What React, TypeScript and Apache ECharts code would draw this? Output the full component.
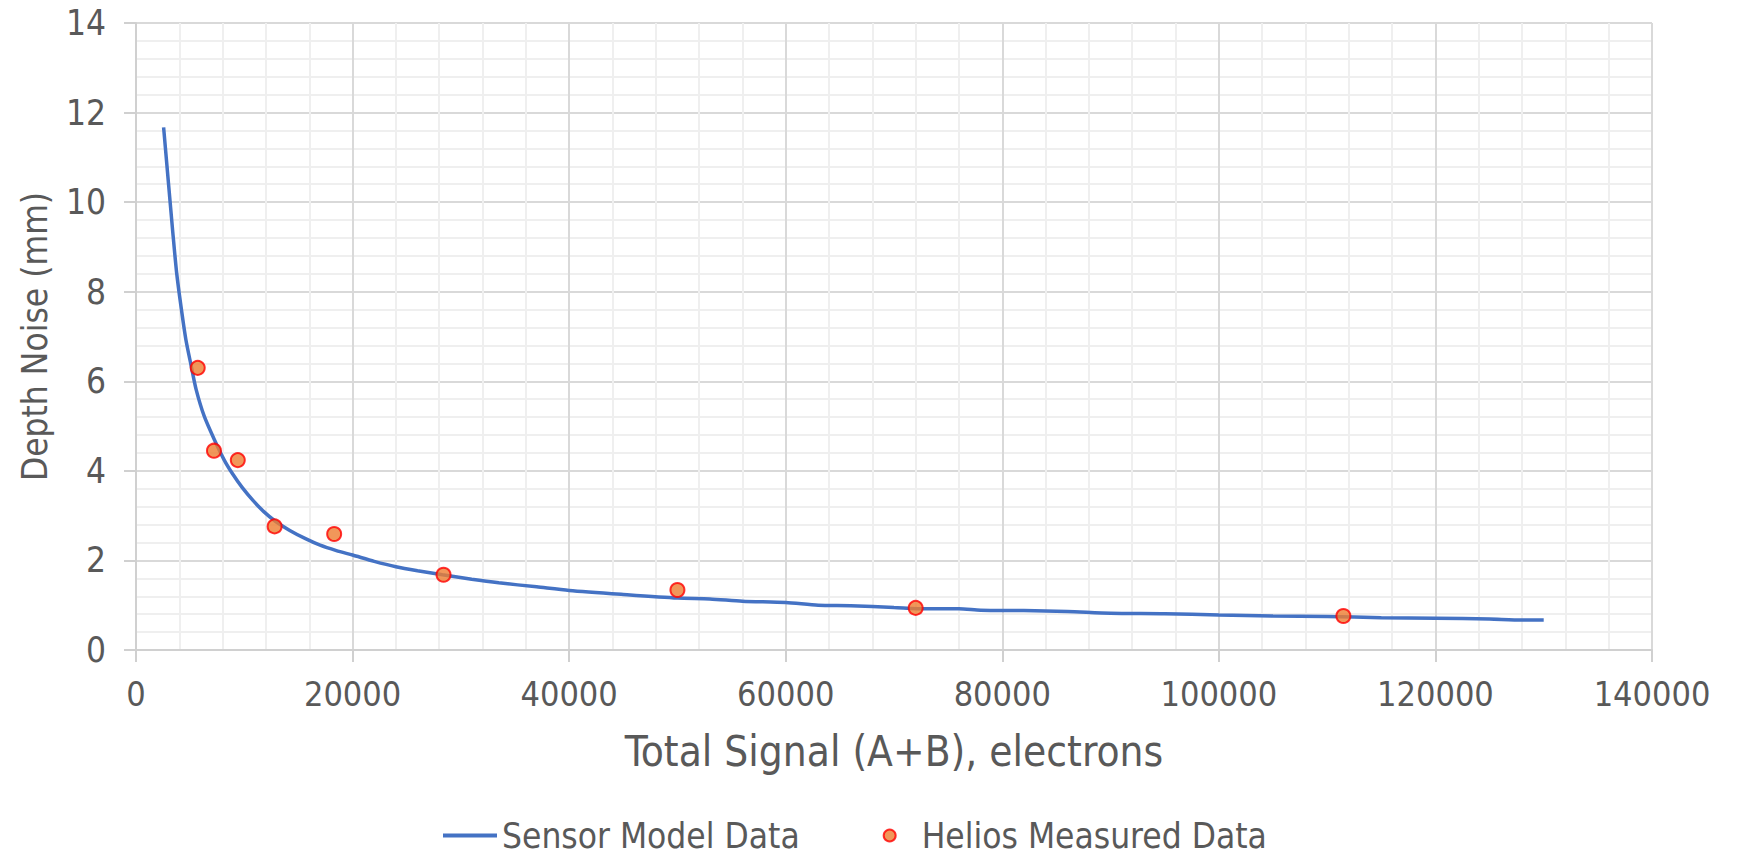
import React, { useEffect, useRef } from "react";
import * as echarts from "echarts";

const modelSignal = [2550, 3000, 3400, 3750, 4150, 4600, 5100, 5550, 6300, 7230, 8150, 8900, 9800, 10800, 11800, 12900, 14200, 15700, 17000, 18500, 20000, 22000, 24000, 26000, 28300, 31000, 33500, 37000, 40000, 45000, 50000, 53000, 56000, 60000, 63000, 66000, 70000, 73000, 76000, 78000, 82000, 86000, 90000, 95000, 100000, 105000, 110000, 115000, 120000, 125000, 128000, 130000];
const modelNoise = [11.67, 10.42, 9.32, 8.43, 7.68, 6.94, 6.34, 5.82, 5.22, 4.7, 4.24, 3.94, 3.63, 3.34, 3.09, 2.87, 2.67, 2.48, 2.34, 2.22, 2.12, 1.98, 1.86, 1.77, 1.68, 1.58, 1.5, 1.41, 1.33, 1.24, 1.16, 1.14, 1.09, 1.06, 1.0, 0.99, 0.95, 0.92, 0.92, 0.89, 0.88, 0.86, 0.82, 0.81, 0.78, 0.76, 0.75, 0.72, 0.71, 0.69, 0.67, 0.67];

const measuredSignal = [5700, 7200, 9400, 12800, 18300, 28400, 50000, 72000, 111500];
const measuredNoise = [6.3, 4.45, 4.24, 2.76, 2.59, 1.68, 1.34, 0.94, 0.76];

const xTitle = "Total Signal (A+B), electrons";
const yTitle = "Depth Noise (mm)";
const seriesNames = ["Sensor Model Data", "Helios Measured Data"];

const FONT = "'DejaVu Sans Condensed', 'Liberation Sans Narrow', 'Open Sans', sans-serif";
const TEXT = "#595959";

export default function App() {
  const ref = useRef<HTMLDivElement>(null);
  useEffect(() => {
    if (!ref.current) return;
    const chart = echarts.init(ref.current, undefined, { renderer: "svg" });
    const axisCommon = {
      axisLine: { show: true, lineStyle: { color: "#d0d0d0", width: 2 } },
      axisTick: { show: true, length: 12, lineStyle: { color: "#d0d0d0", width: 2 } },
      splitLine: { show: true, lineStyle: { color: "#d9d9d9", width: 2 } },
      minorTick: { show: false, splitNumber: 5 },
      minorSplitLine: { show: true, lineStyle: { color: "#efefef", width: 2 } },
    };
    chart.setOption({
      animation: false,
      textStyle: { fontFamily: FONT },
      grid: { left: 136, right: 94, top: 23, bottom: 204, containLabel: false },
      xAxis: {
        type: "value",
        min: 0,
        max: 140000,
        interval: 20000,
        ...axisCommon,
        axisLabel: {
          color: TEXT,
          fontSize: 34,
          margin: 27,
          fontFamily: FONT,
          formatter: (v: number) => String(v),
        },
        name: xTitle,
        nameLocation: "middle",
        nameGap: 80,
        nameTextStyle: { color: TEXT, fontSize: 42, fontFamily: FONT },
      },
      yAxis: {
        type: "value",
        min: 0,
        max: 14,
        interval: 2,
        ...axisCommon,
        axisLabel: { color: TEXT, fontSize: 35, margin: 30, fontFamily: FONT },
        name: yTitle,
        nameLocation: "middle",
        nameGap: 84,
        nameTextStyle: { color: TEXT, fontSize: 35, fontFamily: FONT },
      },
      legend: {
        top: 813,
        left: 438,
        itemWidth: 54,
        itemHeight: 12,
        itemGap: 83,
        textStyle: { color: TEXT, fontSize: 35, fontFamily: FONT },
        data: [
          { name: seriesNames[0], icon: "path://M0,0 L54,0 L54,4 L0,4 Z" },
          { name: seriesNames[1], icon: "circle" },
        ],
      },
      series: [
        {
          name: seriesNames[0],
          type: "line",
          data: modelSignal.map((x, i) => [x, modelNoise[i]]),
          showSymbol: false,
          symbol: "none",
          smooth: 0.25,
          lineStyle: { color: "#4472C4", width: 3.5 },
          itemStyle: { color: "#4472C4" },
          z: 2,
        },
        {
          name: seriesNames[1],
          type: "scatter",
          data: measuredSignal.map((x, i) => [x, measuredNoise[i]]),
          symbol: "circle",
          symbolSize: 14,
          itemStyle: { color: "#ED7D31", borderColor: "#FF0000", borderWidth: 2 },
          z: 3,
        },
      ],
    });
    return () => chart.dispose();
  }, []);
  return (
    <div
      ref={ref}
      style={{ position: "fixed", left: 0, top: 0, width: 1746, height: 854, background: "#fff" }}
    />
  );
}
